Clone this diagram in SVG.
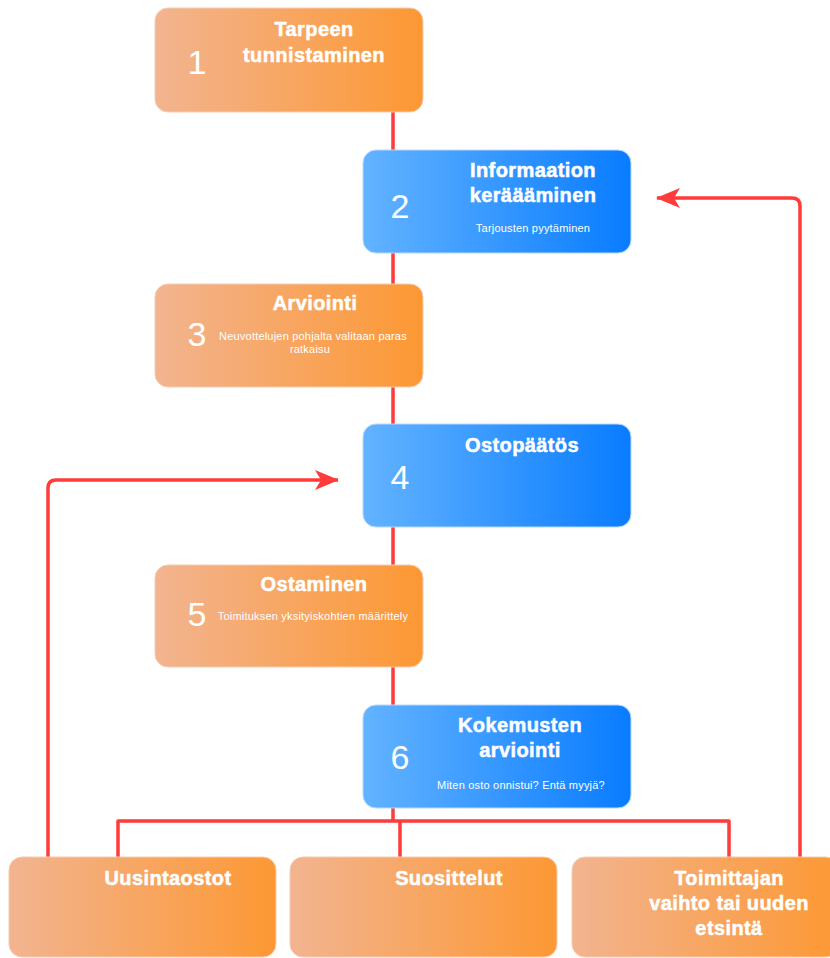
<svg xmlns="http://www.w3.org/2000/svg" width="830" height="958" viewBox="0 0 830 958">
<defs>
<linearGradient id="og" x1="0" y1="0" x2="1" y2="0"><stop offset="0" stop-color="#f2b490"/><stop offset="1" stop-color="#fd9833"/></linearGradient>
<linearGradient id="bg" x1="0" y1="0" x2="1" y2="0"><stop offset="0" stop-color="#63b3ff"/><stop offset="1" stop-color="#097cff"/></linearGradient>
<marker id="arrow" viewBox="0 0 24 20" refX="23" refY="10" markerWidth="24" markerHeight="20" markerUnits="userSpaceOnUse" orient="auto"><path d="M0,0 L24,10 L0,20 L6,10 z" fill="#ff3b3b"/></marker>
</defs>
<style>
.o{fill:url(#og);stroke:#f3cdb3;stroke-width:1}
.b{fill:url(#bg);stroke:#b6d8ff;stroke-width:1}
.c{fill:none;stroke:#ff3b3b;stroke-width:3.5;stroke-linejoin:round}
.n{font-family:"Liberation Sans",Arial,sans-serif;font-size:34px;fill:#fff;text-anchor:middle}
.t{font-family:"Liberation Sans",Arial,sans-serif;font-size:20px;font-weight:bold;fill:#fff;stroke:#fff;stroke-width:0.5;text-anchor:middle;letter-spacing:0.4px}
.s{font-family:"Liberation Sans",Arial,sans-serif;font-size:11px;fill:#fff;text-anchor:middle;letter-spacing:0.2px}
</style>
<g id="connectors">
<path class="c" d="M393,112 V150 M393,253 V284 M393,387 V424 M393,527 V565 M393,667 V705 M393,808 V821"/>
<path class="c" d="M118,857 V821 H729 V857 M400,821 V857"/>
<path class="c" d="M48,857 V488 Q48,480 56,480 H338" marker-end="url(#arrow)"/>
<path class="c" d="M800,857 V206 Q800,198 792,198 H657" marker-end="url(#arrow)"/>
</g>
<g id="n1"><rect class="o" x="155" y="8" width="268" height="104" rx="13"/><text class="n" x="197" y="74">1</text><text class="t" x="314" y="36">Tarpeen</text><text class="t" x="314" y="62">tunnistaminen</text></g>
<g id="n2"><rect class="b" x="363" y="150" width="268" height="103" rx="13"/><text class="n" x="400" y="218">2</text><text class="t" x="533" y="177">Informaation</text><text class="t" x="533" y="202">keräääminen</text><text class="s" x="533" y="232">Tarjousten pyytäminen</text></g>
<g id="n3"><rect class="o" x="155" y="284" width="268" height="103" rx="13"/><text class="n" x="197" y="346">3</text><text class="t" x="315" y="310">Arviointi</text><text class="s" x="313" y="340">Neuvottelujen pohjalta valitaan paras</text><text class="s" x="310" y="353">ratkaisu</text></g>
<g id="n4"><rect class="b" x="363" y="424" width="268" height="103" rx="13"/><text class="n" x="400" y="489">4</text><text class="t" x="522" y="452">Ostopäätös</text></g>
<g id="n5"><rect class="o" x="155" y="565" width="268" height="102" rx="13"/><text class="n" x="197" y="626">5</text><text class="t" x="314" y="591">Ostaminen</text><text class="s" x="313" y="620">Toimituksen yksityiskohtien määrittely</text></g>
<g id="n6"><rect class="b" x="363" y="705" width="268" height="103" rx="13"/><text class="n" x="400" y="769">6</text><text class="t" x="520" y="732">Kokemusten</text><text class="t" x="520" y="757">arviointi</text><text class="s" x="521" y="789">Miten osto onnistui? Entä myyjä?</text></g>
<g id="n7"><rect class="o" x="9" y="857" width="267" height="100" rx="13"/><text class="t" x="168" y="885">Uusintaostot</text></g>
<g id="n8"><rect class="o" x="290" y="857" width="267" height="100" rx="13"/><text class="t" x="449" y="885">Suosittelut</text></g>
<g id="n9"><rect class="o" x="572" y="857" width="267" height="100" rx="13"/><text class="t" x="729" y="885">Toimittajan</text><text class="t" x="729" y="910">vaihto tai uuden</text><text class="t" x="729" y="935">etsintä</text></g>
</svg>
